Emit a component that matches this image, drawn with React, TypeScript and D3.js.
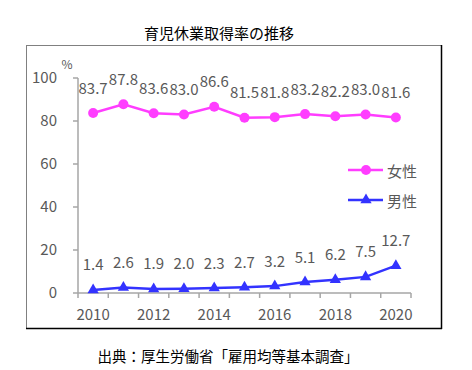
import React from 'react';
import * as d3 from 'd3';

const years = [2010, 2011, 2012, 2013, 2014, 2015, 2016, 2017, 2018, 2019, 2020];
const female = [83.7, 87.8, 83.6, 83.0, 86.6, 81.5, 81.8, 83.2, 82.2, 83.0, 81.6];
const male = [1.4, 2.6, 1.9, 2.0, 2.3, 2.7, 3.2, 5.1, 6.2, 7.5, 12.7];
const yTicks = [0, 20, 40, 60, 80, 100];
const xLabels = [2010, 2012, 2014, 2016, 2018, 2020];

const W = 472;
const H = 370;
const FONT = '"Noto Sans CJK JP", "Noto Sans", sans-serif';
const GRAY = '#595959';
const AXIS = '#a6a6a6';
const PINK = '#ff3dff';
const BLUE = '#3333ff';

export default function App() {
  const x = d3.scaleBand<number>().domain(years).range([78, 411]).paddingInner(0).paddingOuter(0);
  const y = d3.scaleLinear().domain([0, 100]).range([293, 78]);
  const cx = (yr: number) => (x(yr) as number) + x.bandwidth() / 2;

  const line = d3.line<number>()
    .x((_, i) => cx(years[i]))
    .y(d => y(d));

  const tri = d3.symbol().type(d3.symbolTriangle).size(55);
  const boundaries = [...years.map(yr => x(yr) as number), 411];

  return (
    <div style={{ position: 'absolute', left: 0, top: 0 }}>
      <svg width={W} height={H} style={{ display: 'block', fontFamily: FONT }}>
        <rect x={0} y={0} width={W} height={H} fill="#fff" />
        <text x={219} y={32} textAnchor="middle" dominantBaseline="central" fontSize={15} fill="#000">
          育児休業取得率の推移
        </text>
        {/* frame */}
        <line x1={26} y1={45.5} x2={441.5} y2={45.5} stroke="#808080" strokeWidth={1} />
        <line x1={26.5} y1={45} x2={26.5} y2={329} stroke="#808080" strokeWidth={1} />
        <line x1={441.5} y1={45} x2={441.5} y2={329} stroke="#000" strokeWidth={1.5} />
        <line x1={26} y1={328.5} x2={442} y2={328.5} stroke="#000" strokeWidth={1.5} />

        {/* y axis */}
        <line x1={78} y1={y(100)} x2={78} y2={y(0)} stroke={AXIS} strokeWidth={1.5} />
        {yTicks.map(t => (
          <g key={t}>
            <line x1={73} x2={78} y1={y(t)} y2={y(t)} stroke={AXIS} strokeWidth={1.5} />
            <text x={57} y={y(t) - 2} textAnchor="end" dominantBaseline="central" fontSize={15} fill={GRAY}>
              {t}
            </text>
          </g>
        ))}
        <text x={67} y={63} textAnchor="middle" dominantBaseline="central" fontSize={12} fill={GRAY}>%</text>

        {/* x axis */}
        <line x1={78} x2={411} y1={y(0)} y2={y(0)} stroke={AXIS} strokeWidth={1.5} />
        {boundaries.map((b, i) => (
          <line key={i} x1={b} x2={b} y1={y(0)} y2={y(0) + 5} stroke={AXIS} strokeWidth={1.5} />
        ))}
        {xLabels.map(yr => (
          <text key={yr} x={cx(yr)} y={313} textAnchor="middle" dominantBaseline="central" fontSize={15} fill={GRAY}>
            {yr}
          </text>
        ))}

        {/* female */}
        <path d={line(female) || ''} fill="none" stroke={PINK} strokeWidth={2.5} />
        {female.map((v, i) => (
          <circle key={i} cx={cx(years[i])} cy={y(v)} r={5} fill={PINK} />
        ))}
        {female.map((v, i) => (
          <text key={i} x={cx(years[i])} y={y(v) - 26} textAnchor="middle" dominantBaseline="central" fontSize={15} fill={GRAY}>
            {v.toFixed(1)}
          </text>
        ))}

        {/* male */}
        <path d={line(male) || ''} fill="none" stroke={BLUE} strokeWidth={2.5} />
        {male.map((v, i) => (
          <path key={i} d={tri() || ''} transform={`translate(${cx(years[i])},${y(v)})`} fill={BLUE} />
        ))}
        {male.map((v, i) => (
          <text key={i} x={cx(years[i])} y={y(v) - 26} textAnchor="middle" dominantBaseline="central" fontSize={15} fill={GRAY}>
            {v.toFixed(1)}
          </text>
        ))}

        {/* legend */}
        <line x1={348} x2={383} y1={170} y2={170} stroke={PINK} strokeWidth={2.5} />
        <circle cx={366} cy={170} r={5} fill={PINK} />
        <text x={387} y={170} dominantBaseline="central" fontSize={15} fill={GRAY}>女性</text>
        <line x1={348} x2={383} y1={200} y2={200} stroke={BLUE} strokeWidth={2.5} />
        <path d={tri() || ''} transform="translate(366,200)" fill={BLUE} />
        <text x={387} y={200} dominantBaseline="central" fontSize={15} fill={GRAY}>男性</text>

        <text x={228} y={355} textAnchor="middle" dominantBaseline="central" fontSize={14.5} fill="#000">
          出典：厚生労働省「雇用均等基本調査」
        </text>
      </svg>
    </div>
  );
}
